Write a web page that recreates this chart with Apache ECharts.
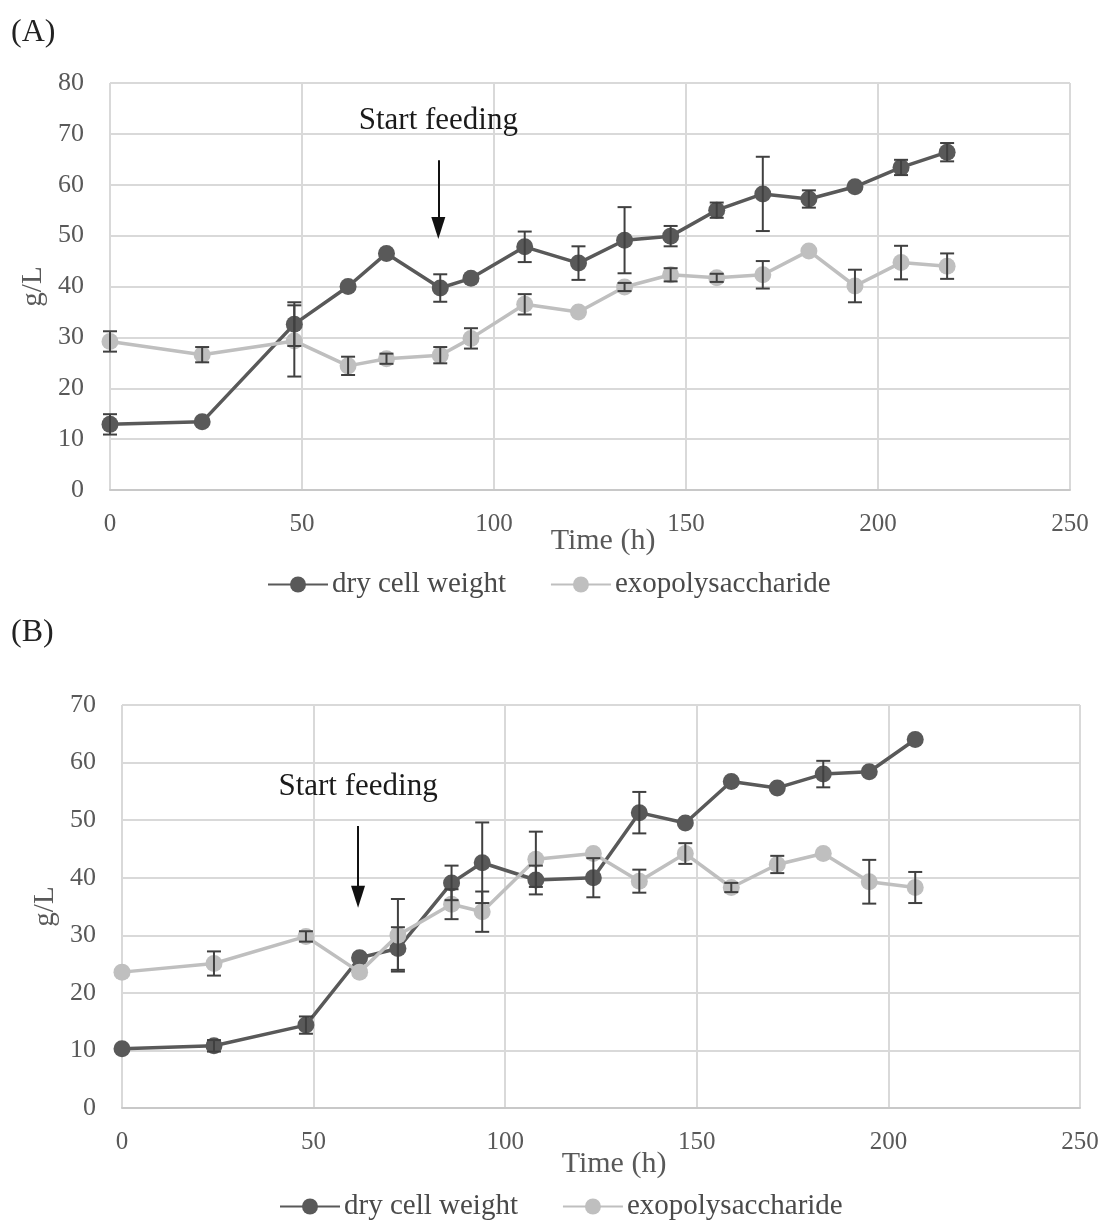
<!DOCTYPE html>
<html><head><meta charset="utf-8">
<script src="https://cdn.jsdelivr.net/npm/echarts@6/dist/echarts.min.js"></script>
<style>html,body{margin:0;padding:0;background:#fff}#c{width:1107px;height:1220px}</style>
</head><body><div id="c"></div>
<script>
// ---- Panel A data ----
const timeA = [0,24,48,62,72,86,94,108,122,134,146,158,170,182,194,206,218];
const dcwA  = [12.9,13.4,32.6,40.0,46.5,39.7,41.6,47.8,44.6,49.1,49.9,55.0,58.2,57.2,59.6,63.4,66.4];
const dcwErrA = [2.0,0,4.3,0,0,2.7,0,3.0,3.3,6.5,2.0,1.5,7.3,1.7,0,1.5,1.8];
const epsA  = [29.2,26.6,29.3,24.4,25.8,26.5,29.8,36.5,35.0,39.9,42.3,41.7,42.3,47.0,40.1,44.7,44.0];
const epsErrA = [2.0,1.5,7.0,1.8,1.0,1.6,2.0,2.0,0,0.8,1.3,0.8,2.7,0,3.2,3.3,2.5];
// ---- Panel B data ----
const timeB = [0,24,48,62,72,86,94,108,123,135,147,159,171,183,195,207];
const dcwB  = [10.3,10.8,14.4,26.1,27.7,39.1,42.6,39.6,40.0,51.3,49.5,56.7,55.6,58.0,58.4,64.0];
const dcwErrB = [0,1.0,1.5,0,3.7,3.0,7.0,2.5,3.4,3.6,0,0,0,2.3,0,0];
const epsB  = [23.6,25.1,29.8,23.6,30.0,35.4,34.1,43.2,44.2,39.4,44.2,38.3,42.3,44.2,39.3,38.3];
const epsErrB = [0,2.1,0.9,0,6.3,2.6,3.5,4.8,0,2.0,1.8,0.8,1.5,0,3.8,2.7];
// ---- axis ticks ----
const xTicks = [0,50,100,150,200,250];
const yTicksA = [0,10,20,30,40,50,60,70,80];
const yTicksB = [0,10,20,30,40,50,60,70];
// annotation positions (data coordinates)
const feedA = {x:85.5, yTop:64.8, yBot:51.5};
const feedB = {x:61.6, yTop:49.0, yBot:36.7};
const names = ['dry cell weight','exopolysaccharide'];

const FONT = '"Liberation Serif","Times New Roman",serif';
const DARK = '#595959', LIGHT = '#bfbfbf', ERR = '#404040', GRIDC = '#d9d9d9', TXT = '#595959';

function pairs(t, v){ return t.map((x,i)=>[x,v[i]]); }
function errData(t, v, e){ const out=[]; t.forEach((x,i)=>{ if(e[i]>0) out.push([x, v[i]-e[i], v[i]+e[i]]); }); return out; }
function renderErr(params, api){
  const x = api.value(0), lo = api.value(1), hi = api.value(2);
  const a = api.coord([x, hi]), b = api.coord([x, lo]);
  const w = 7;
  const st = {stroke: ERR, lineWidth: 2};
  return {type:'group', children:[
    {type:'line', shape:{x1:a[0],y1:a[1],x2:b[0],y2:b[1]}, style:st},
    {type:'line', shape:{x1:a[0]-w,y1:a[1],x2:a[0]+w,y2:a[1]}, style:st},
    {type:'line', shape:{x1:b[0]-w,y1:b[1],x2:b[0]+w,y2:b[1]}, style:st}
  ]};
}
function xAxis(gi, gap){
  return {type:'value', gridIndex:gi, min:0, max:250, interval:50,
    name:'Time (h)', nameLocation:'middle', nameGap:gap, nameMoveOverlap:false,
    nameTextStyle:{fontFamily:FONT, fontSize:30, color:TXT, padding:[0,0,0,26]},
    axisLine:{show:true, lineStyle:{color:'#c8c8c8', width:2}},
    axisTick:{show:false},
    axisLabel:{fontFamily:FONT, fontSize:25, color:TXT, margin:22,
      formatter:v=> xTicks.includes(v) ? String(v) : ''},
    splitLine:{show:true, lineStyle:{color:GRIDC, width:2}}};
}
function yAxis(gi, max, ticks, gap){
  return {type:'value', gridIndex:gi, min:0, max:max, interval:10,
    name:'g/L', nameLocation:'middle', nameGap:gap, nameRotate:90, nameMoveOverlap:false,
    nameTextStyle:{fontFamily:FONT, fontSize:29, color:TXT},
    axisLine:{show:false}, axisTick:{show:false},
    axisLabel:{fontFamily:FONT, fontSize:26, color:TXT, margin:26,
      formatter:v=> ticks.includes(v) ? String(v) : ''},
    splitLine:{show:true, lineStyle:{color:GRIDC, width:2}}};
}
function lineSeries(name, gi, t, v, color, z){
  return {type:'line', name:name, xAxisIndex:gi, yAxisIndex:gi, data:pairs(t,v),
    symbol:'circle', symbolSize:17, z:z,
    itemStyle:{color:color}, lineStyle:{color:color, width:3.5}, animation:false};
}
function errSeries(gi, t, v, e){
  return {type:'custom', xAxisIndex:gi, yAxisIndex:gi, renderItem:renderErr,
    data:errData(t,v,e), z:10, silent:true, animation:false, encode:{x:0, y:[1,2]}};
}
function feedSeries(gi, f){
  return {type:'line', xAxisIndex:gi, yAxisIndex:gi, data:[], silent:true, animation:false,
    markLine:{silent:true, symbol:['none','triangle'], symbolSize:[14,22], symbolRotate:180,
      lineStyle:{color:'#111', width:2, type:'solid'},
      label:{show:true, position:'start', formatter:'Start feeding', distance:[0,24],
        fontFamily:FONT, fontSize:31, color:'#1a1a1a'},
      data:[[{coord:[f.x, f.yTop]}, {coord:[f.x, f.yBot]}]]}};
}
function legend(left, top){
  return {data:names, left:left, top:top, itemWidth:60, itemHeight:20, itemGap:44,
    textStyle:{fontFamily:FONT, fontSize:29, color:'#4a4a4a', padding:[0,0,0,-1]}};
}

const chart = echarts.init(document.getElementById('c'), null, {renderer:'canvas'});
chart.setOption({
  backgroundColor:'#fff',
  animation:false,
  title:[
    {text:'(A)', left:6, top:12, textStyle:{fontFamily:FONT, fontSize:32, fontWeight:'normal', color:'#222'}},
    {text:'(B)', left:6, top:612, textStyle:{fontFamily:FONT, fontSize:32, fontWeight:'normal', color:'#222'}}
  ],
  grid:[
    {left:110, top:83, width:960, height:407},
    {left:122, top:705, width:958, height:403}
  ],
  legend:[legend(262, 565), legend(274, 1187)],
  xAxis:[xAxis(0, 36), xAxis(1, 41)],
  yAxis:[yAxis(0,80,yTicksA,62), yAxis(1,70,yTicksB,62)],
  series:[
    lineSeries(names[0],0,timeA,dcwA,DARK,3),
    lineSeries(names[1],0,timeA,epsA,LIGHT,4),
    errSeries(0,timeA,dcwA,dcwErrA),
    errSeries(0,timeA,epsA,epsErrA),
    feedSeries(0,feedA),
    lineSeries(names[0],1,timeB,dcwB,DARK,3),
    lineSeries(names[1],1,timeB,epsB,LIGHT,4),
    errSeries(1,timeB,dcwB,dcwErrB),
    errSeries(1,timeB,epsB,epsErrB),
    feedSeries(1,feedB)
  ]
});
</script></body></html>
